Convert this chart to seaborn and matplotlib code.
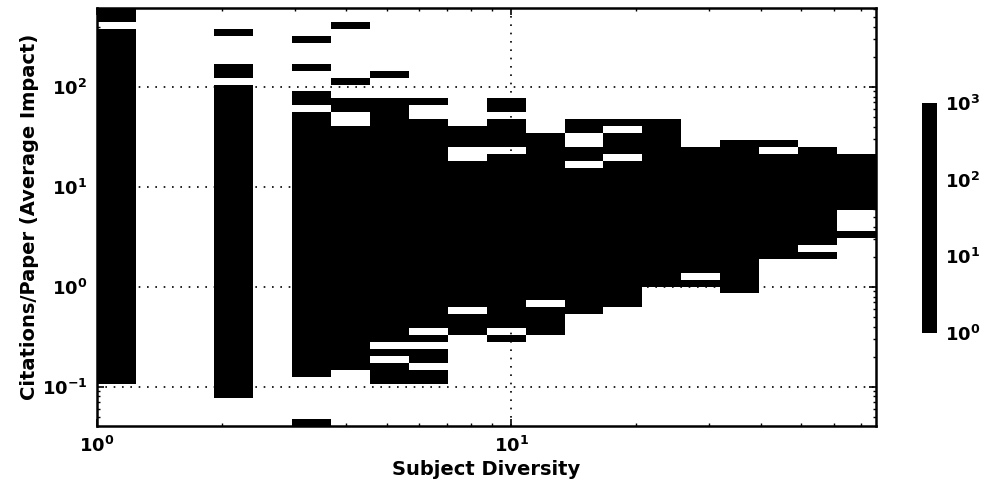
import numpy as np
import pandas as pd
import matplotlib
matplotlib.use("Agg")
import matplotlib.pyplot as plt
from matplotlib.colors import ListedColormap, LogNorm
from matplotlib.cm import ScalarMappable
import seaborn as sns

# Occupied (low, high) Citations/Paper ranges for each Subject Diversity column
seg_diversity = [1, 1,
                 2, 2, 2,
                 3, 3, 3, 3, 3,
                 4, 4, 4, 4,
                 5, 5, 5, 5,
                 6, 6, 6, 6, 6,
                 8, 8, 8,
                 10, 10, 10, 10,
                 12, 12,
                 15, 15, 15,
                 18, 18, 18,
                 23,
                 28, 28,
                 35,
                 44, 44,
                 54, 54,
                 68, 68]
seg_low = [448, 0.107,
           325, 124, 0.077,
           277, 146, 65, 0.125, 0.041,
           381, 106, 55.6, 0.147,
           124, 0.279, 0.203, 0.107,
           65.3, 0.385, 0.279, 0.173, 0.107,
           24.9, 0.623, 0.328,
           55.6, 24.9, 0.385, 0.279,
           0.731, 0.328,
           34.3, 18.1, 0.531,
           40.3, 21.2, 0.623,
           1.01,
           1.39, 1.01,
           0.859,
           24.9, 1.91,
           2.64, 1.91,
           5.89, 3.10]
seg_high = [617, 381,
            381, 171, 106,
            325, 171, 90, 55.6, 0.048,
            448, 124, 76.6, 40.3,
            146, 76.6, 0.238, 0.173,
            76.6, 47.3, 0.328, 0.238, 0.147,
            40.3, 18.1, 0.531,
            76.6, 47.3, 21.2, 0.328,
            34.3, 0.623,
            47.3, 24.9, 15.4,
            47.3, 34.3, 18.1,
            47.3,
            24.9, 1.18,
            29.3,
            29.3, 21.2,
            24.9, 2.25,
            21.2, 3.63]

# Histogram grid: 20 log bins in diversity, 60 log bins in impact
x_range = (1.0, 76.0)
y_range = (0.0407, 617.0)
x_edges = np.geomspace(*x_range, 21)
y_edges = np.geomspace(*y_range, 61)
y_mid = np.sqrt(y_edges[:-1] * y_edges[1:])

rows = []
for d, lo, hi in zip(seg_diversity, seg_low, seg_high):
    for c in y_mid[(y_mid > lo) & (y_mid < hi)]:
        rows.append((d, c))
df = pd.DataFrame(rows, columns=["Subject Diversity", "Citations/Paper"])

sns.set_theme(style="ticks")
plt.rcParams.update({
    "font.family": ["DejaVu Sans"],
    "font.weight": "bold",
    "mathtext.fontset": "dejavusans",
    "mathtext.default": "bf",
    "axes.unicode_minus": False,
    "axes.linewidth": 1.8,
    "axes.edgecolor": "black",
    "axes.labelcolor": "black",
    "text.color": "black",
    "xtick.color": "black",
    "ytick.color": "black",
})

fig = plt.figure(figsize=(9.89, 4.94), dpi=100)
ax = fig.add_axes([0.098, 0.138, 0.788, 0.846])

black = ListedColormap(["black"])
sns.histplot(data=df, x="Subject Diversity", y="Citations/Paper",
             bins=(np.log10(x_edges), np.log10(y_edges)),
             log_scale=(True, True), cmap=black, cbar=False, ax=ax)

ax.set_xlim(*x_range)
ax.set_ylim(*y_range)
ax.grid(True, which="major", color="black", linestyle=(0, (1, 4)), linewidth=1.2)
ax.set_axisbelow(False)
ax.tick_params(which="both", direction="in", top=True, right=True,
               labelsize=13, pad=7)
ax.tick_params(which="major", length=5, width=1.2)
ax.tick_params(which="minor", length=2.5, width=1)
for lab in ax.get_xticklabels() + ax.get_yticklabels():
    lab.set_fontweight("bold")
ax.set_xlabel("Subject Diversity", fontsize=14, fontweight="bold", labelpad=3)
ax.set_ylabel("Citations/Paper (Average Impact)", fontsize=14,
              fontweight="bold", labelpad=2)

cax = fig.add_axes([0.932, 0.326, 0.0155, 0.466])
sm = ScalarMappable(norm=LogNorm(1, 1000), cmap=black)
cb = fig.colorbar(sm, cax=cax)
cb.outline.set_visible(False)
cb.set_ticks([1, 10, 100, 1000])
cb.ax.tick_params(length=0, labelsize=13, pad=6)
cb.ax.minorticks_off()

fig.savefig("out.png", dpi=100)
